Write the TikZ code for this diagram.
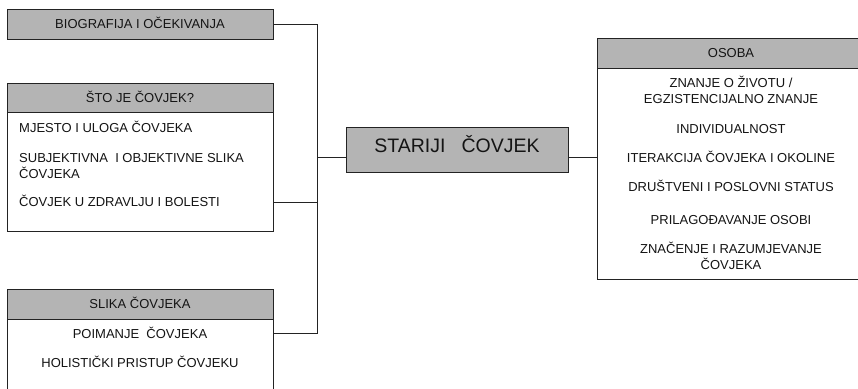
\documentclass[tikz,border=0pt]{standalone}
\usepackage{fontspec}
\setmainfont{Liberation Sans}
\definecolor{hdrgray}{RGB}{180,180,180}
\definecolor{linecol}{RGB}{35,35,35}
\definecolor{txtcol}{RGB}{20,20,20}
\begin{document}
\begin{tikzpicture}[x=1pt,y=-1pt,
  box/.style={draw=linecol, line width=0.9pt, inner sep=0pt, anchor=north west, minimum width=266pt},
  hdrbox/.style={box, fill=hdrgray},
  bodybox/.style={box, fill=white},
  txt/.style={anchor=base, inner sep=0pt, text=txtcol, font=\fontsize{13}{15}\selectfont},
  ltxt/.style={txt, anchor=base west},
  conn/.style={draw=linecol, line width=0.9pt}]
\useasboundingbox (0,0) rectangle (858,388);
\clip (0,0) rectangle (858,388);
\fill[white] (0,0) rectangle (858,388);

% left column
\node[hdrbox, minimum height=30pt] (bio) at (7,9) {};
\node[txt] (biot) at (140,28.5) {BIOGRAFIJA I OČEKIVANJA};

\node[bodybox, minimum height=119pt] (stobody) at (7,112) {};
\node[hdrbox, minimum height=29pt] (sto) at (7,83) {};
\node[txt] (stot) at (140,102) {ŠTO JE ČOVJEK?};
\node[ltxt] (sto1) at (19,132.5) {MJESTO I ULOGA ČOVJEKA};
\node[ltxt] (sto2) at (19,162) {SUBJEKTIVNA\ \ I OBJEKTIVNE SLIKA};
\node[ltxt] (sto3) at (19,178.5) {ČOVJEKA};
\node[ltxt] (sto4) at (19,206.5) {ČOVJEK U ZDRAVLJU I BOLESTI};

\node[bodybox, minimum height=90pt] (slikabody) at (7,319) {};
\node[hdrbox, minimum height=30pt] (slika) at (7,289) {};
\node[txt] (slikat) at (140,308.5) {SLIKA ČOVJEKA};
\node[txt] (slika1) at (140,338.5) {POIMANJE\ \ ČOVJEKA};
\node[txt] (slika2) at (140,367.5) {HOLISTIČKI PRISTUP ČOVJEKU};

% centre
\node[hdrbox, minimum width=222pt, minimum height=45pt] (star) at (346,127) {};
\node[txt, font=\fontsize{19.5}{22}\selectfont] (start) at (457,152.5) {STARIJI\hspace{16pt}ČOVJEK};

% right column
\node[bodybox, minimum width=268pt, minimum height=211pt] (osbody) at (597,68) {};
\node[hdrbox, minimum width=268pt, minimum height=30pt] (os) at (597,38) {};
\node[txt] (ost) at (731,57.5) {OSOBA};
\node[txt] (os1) at (731,87.5) {ZNANJE O ŽIVOTU /};
\node[txt] (os2) at (731,103.5) {EGZISTENCIJALNO ZNANJE};
\node[txt] (os3) at (731,133.5) {INDIVIDUALNOST};
\node[txt] (os4) at (731,162.5) {ITERAKCIJA ČOVJEKA I OKOLINE};
\node[txt] (os5) at (731,191.5) {DRUŠTVENI I POSLOVNI STATUS};
\node[txt] (os6) at (731,224.5) {PRILAGOĐAVANJE OSOBI};
\node[txt] (os7) at (731,253.5) {ZNAČENJE I RAZUMJEVANJE};
\node[txt] (os8) at (731,269.5) {ČOVJEKA};

% connectors
\coordinate (j) at (317,157);
\coordinate (jb) at (317,333);
\coordinate (jm) at (317,202);
\draw[conn] (bio.east) -| (jb) -- (jb -| slikabody.east);
\draw[conn] (stobody.east |- jm) -- (jm);
\draw[conn] (j) -- (star.west |- j);
\draw[conn] (star.east |- j) -- (osbody.west |- j);
\end{tikzpicture}
\end{document}
